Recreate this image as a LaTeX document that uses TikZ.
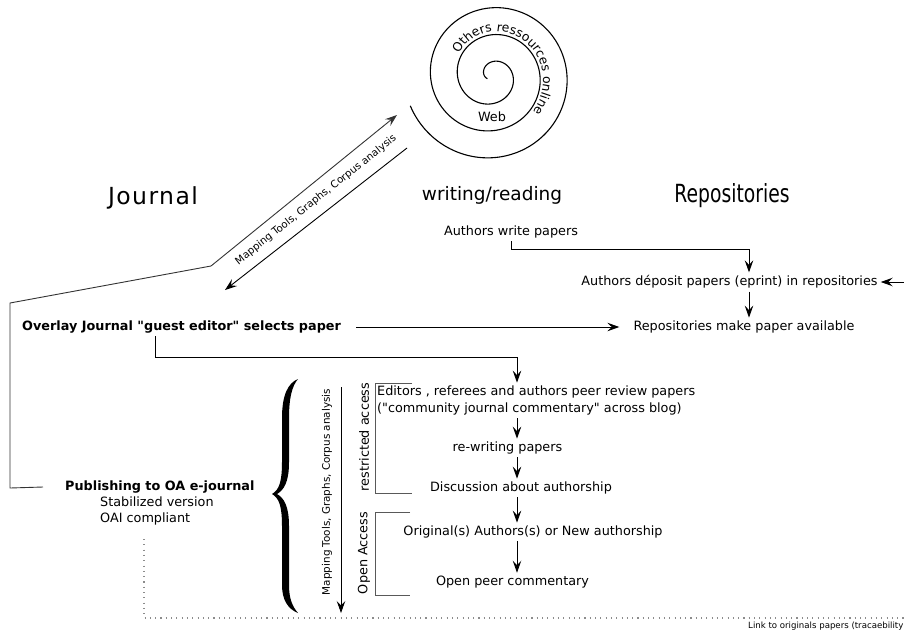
\documentclass[tikz,border=0pt]{standalone}
\usepackage{fontspec}
\setmainfont{DejaVu Sans}[Ligatures=TeXOff]
\newfontfamily\condfont[FakeStretch=0.75]{DejaVu Sans}
\newfontfamily\spacedfont[LetterSpace=6]{DejaVu Sans}
\usetikzlibrary{arrows.meta,decorations.text}
\begin{document}
\begin{tikzpicture}[x=1pt,y=-1pt,
  txt/.style={font=\fontsize{12.8}{16}\selectfont, inner sep=3pt},
  btxt/.style={font=\bfseries\fontsize{12.8}{16}\selectfont, inner sep=3pt},
  small/.style={font=\fontsize{10.2}{12}\selectfont, inner sep=1pt},
  tip/.style={-{Stealth[length=12pt,width=8.5pt,inset=4.5pt]}},
  arr/.style={draw=black, line width=0.9pt, tip},
  grayline/.style={draw=black!80, line width=0.9pt},
  bracket/.style={draw=black!65, line width=1pt},
  dotl/.style={draw=black!45, line width=1.1pt, dash pattern=on 1.1pt off 4.2pt},
  spiralline/.style={draw=black, line width=1.1pt}
]
\useasboundingbox (0,0) rectangle (904,630);
\clip (0,0) rectangle (904,630);
\fill[white] (0,0) rectangle (904,630);

% ---- spiral ----
\draw[spiralline] plot[domain=200:1290, samples=300, smooth, variable=\a]
  ({492+(87-0.075*(\a-200))*cos(\a)}, {76-(87-0.075*(\a-200))*sin(\a)});
\path[decorate, decoration={text along path, text align=left,
  text={|\fontsize{12.4}{14}\selectfont|Others ressources online}}]
  plot[domain=0:266, samples=30, variable=\t]
  ({492+(90-0.075*(666-\t))*cos(866-\t)}, {76-(90-0.075*(666-\t))*sin(866-\t)});
\node[txt] (web) at (492,117) {Web};

% ---- headings ----
\node[inner sep=0pt, font=\spacedfont\fontsize{23.5}{26}\selectfont] (journal) at (153,198) {Journal};
\node[inner sep=0pt, font=\fontsize{18.5}{22}\selectfont] (wr) at (492,195) {writing/reading};
\node[inner sep=0pt, font=\condfont\fontsize{25}{30}\selectfont] (repos) at (732,196) {Repositories};

% ---- repositories column ----
\node[txt] (aw) at (511,232) {Authors write papers};
\node[txt] (dep) at (729.5,282) {Authors déposit papers (eprint) in repositories};
\node[txt] (rep) at (744,327) {Repositories make paper available};
\coordinate (j1) at (749,249);
\coordinate (redge) at (904,282);
\draw[arr] (aw.south) |- (j1) -- (j1 |- dep.north);
\draw[arr] (dep.south -| j1) -- (rep.north -| j1);
\draw[arr] (redge) -- (dep.east);

% ---- journal side ----
\node[btxt, anchor=west] (ov) at (19,327) {Overlay Journal "guest editor" selects paper};
\draw[arr] ([xshift=12pt]ov.east) -- ([xshift=-11pt]rep.west);

\node[btxt, anchor=west] (pub) at (62,487) {Publishing to OA e-journal};
\node[txt, anchor=west, align=left] (sub) at (97,511) {Stabilized version\\OAI compliant};

% ---- web arrows ----
\coordinate (web1) at (397,115);
\coordinate (web2) at (407,148);
\coordinate (jn) at (225,290);
\coordinate (p1) at (10,488);
\coordinate (p2) at (10,303);
\coordinate (p3) at (211,266);
\draw[grayline, tip] ([xshift=-19pt]pub.west) -- (p1) -- (p2) -- (p3) -- (web1);
\draw[arr] (web2) -- (jn);
\node[small, rotate=38.5] (mt1) at (316,200) {Mapping Tools, Graphs, Corpus analysis};

% ---- review process ----
\node[txt, anchor=west, align=left, font=\fontsize{12.8}{17}\selectfont] (ed) at (374,400.5)
  {Editors , referees and authors peer review papers\\("community journal commentary" across blog)};
\node[txt] (rw) at (507.5,448) {re-writing papers};
\node[txt] (dis) at (521,488) {Discussion about authorship};
\node[txt] (orig) at (533,532) {Original(s) Authors(s) or New authorship};
\node[txt] (open) at (512.5,582) {Open peer commentary};

\coordinate (j3) at (155,357);
\coordinate (j2) at (517,357);
\draw[arr] (ov.south -| j3) -- (j3) -- (j2) -- (j2 |- ed.north);
\coordinate (cx) at (517,0);
\draw[arr] (ed.south -| cx) -- (rw.north -| cx);
\draw[arr] (rw.south -| cx) -- (dis.north -| cx);
\draw[arr] (dis.south -| cx) -- (orig.north -| cx);
\draw[arr] (orig.south -| cx) -- (open.north -| cx);

% brackets
\draw[bracket] (412,383) -- (375,383) -- (375,493) -- (412,493);
\draw[bracket] (410,512) -- (375,512) -- (375,595) -- (410,595);
\node[txt, rotate=90] (ra) at (364,437) {restricted access};
\node[txt, rotate=90] (oa) at (364,553) {Open Access};

% vertical mapping arrow
\coordinate (ma1) at (341,387);
\coordinate (ma2) at (341,613);
\draw[draw=black, line width=0.8pt, tip] (ma1) -- (ma2);
\node[small, rotate=90, font=\fontsize{10.4}{12}\selectfont] (mt2) at (327,492) {Mapping Tools, Graphs, Corpus analysis};

% big brace
\fill[black] (298,379) .. controls (288,383) and (282,395) .. (282,418) -- (282,462)
  .. controls (282,482) and (279,490) .. (272,494)
  .. controls (279,498) and (282,506) .. (282,526) -- (282,585)
  .. controls (282,600) and (288,609) .. (298,613)
  .. controls (292,606) and (289,598) .. (289,585) -- (289,526)
  .. controls (289,506) and (284,498) .. (277,494)
  .. controls (284,490) and (289,482) .. (289,462) -- (289,418)
  .. controls (289,398) and (292,386) .. (298,379) -- cycle;

% dotted link
\coordinate (d1) at (144,539);
\coordinate (d2) at (144,618);
\coordinate (d3) at (904,618);
\draw[dotl] (d1) -- (d2) -- (d3);
\node[anchor=west, inner sep=0pt, font=\fontsize{8.6}{10}\selectfont] (link) at (748,626) {Link to originals papers (tracaebility};
\end{tikzpicture}
\end{document}
